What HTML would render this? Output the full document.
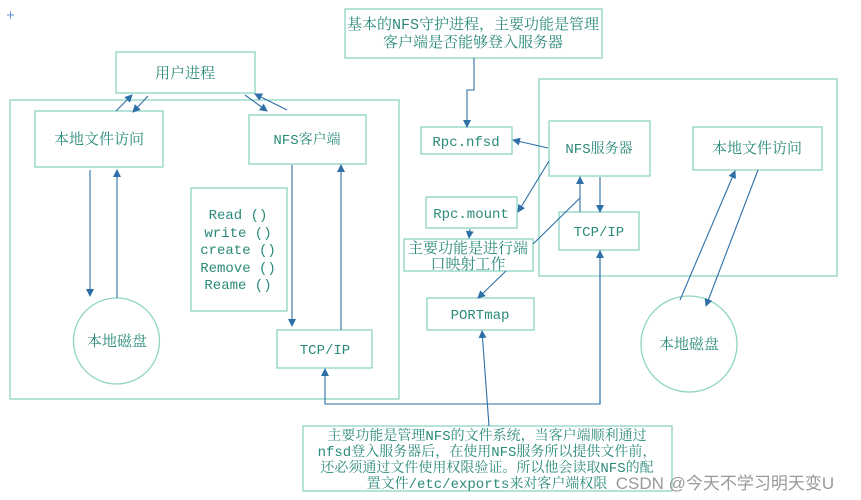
<!DOCTYPE html>
<html><head><meta charset="utf-8"><style>
html,body{margin:0;padding:0;background:#fff;width:861px;height:500px;overflow:hidden}
svg{display:block}
text{font-family:"Liberation Mono","Noto Serif CJK SC",monospace;fill:#2a8a7a;font-size:14px;text-anchor:middle}
.b{fill:#fff;stroke:#8fd4c4;stroke-width:1.3}
.c{fill:none;stroke:#8fd4c4;stroke-width:1.3}
.l{fill:none;stroke:#2d6fa6;stroke-width:1.1}
</style></head><body>
<svg width="861" height="500" viewBox="0 0 861 500" xmlns="http://www.w3.org/2000/svg">
<defs><marker id="a" markerWidth="8" markerHeight="8" refX="7" refY="4" orient="auto" markerUnits="userSpaceOnUse"><path d="M0,0 L8,4 L0,8 Z" fill="#2d6fa6"/></marker></defs>
<path d="M7 15h7M10.5 11.5v7" stroke="#5a8ee0" stroke-width="1"/>
<rect class="c" x="10" y="100" width="389" height="299"/>
<rect class="c" x="539" y="79" width="298" height="197"/>
<rect class="b" x="345" y="9" width="257" height="49"/>
<text x="473" y="29" style="font-size:15px">基本的NFS守护进程，主要功能是管理</text>
<text x="473" y="47" style="font-size:15px">客户端是否能够登入服务器</text>
<rect class="b" x="116" y="52" width="139" height="41"/><text x="185" y="78" style="font-size:15px">用户进程</text>
<rect class="b" x="35" y="111" width="128" height="56"/><text x="99" y="144" style="font-size:15px">本地文件访问</text>
<rect class="b" x="249" y="115" width="117" height="49"/><text x="307" y="144">NFS客户端</text>
<rect class="b" x="191" y="188" width="96" height="123"/>
<text x="238" y="219">Read ()</text><text x="238" y="237">write ()</text><text x="238" y="254">create ()</text><text x="238" y="272">Remove ()</text><text x="238" y="289">Reame ()</text>
<circle class="b" cx="116.5" cy="341" r="43"/><text x="117" y="346" style="font-size:15px">本地磁盘</text>
<rect class="b" x="277" y="330" width="95" height="38"/><text x="325" y="354">TCP/IP</text>
<rect class="b" x="421" y="127" width="91" height="27"/><text x="466" y="146">Rpc.nfsd</text>
<rect class="b" x="549" y="121" width="101" height="55"/><text x="599" y="153">NFS服务器</text>
<rect class="b" x="693" y="127" width="129" height="43"/><text x="757" y="153" style="font-size:15px">本地文件访问</text>
<rect class="b" x="426" y="197" width="91" height="31"/><text x="471" y="218">Rpc.mount</text>
<rect class="b" x="559" y="212" width="80" height="38"/><text x="599" y="236">TCP/IP</text>
<rect class="b" x="404" y="239" width="129" height="32"/>
<text x="468" y="253" style="font-size:15px">主要功能是进行端</text><text x="468" y="269" style="font-size:15px">口映射工作</text>
<rect class="b" x="427" y="298" width="107" height="32"/><text x="480" y="319">PORTmap</text>
<circle class="b" cx="689" cy="344" r="48"/><text x="689" y="349" style="font-size:15px">本地磁盘</text>
<rect class="b" x="303" y="426" width="369" height="65"/>
<text x="487" y="440">主要功能是管理NFS的文件系统，当客户端顺利通过</text>
<text x="487" y="456">nfsd登入服务器后，在使用NFS服务所以提供文件前，</text>
<text x="487" y="472">还必须通过文件使用权限验证。所以他会读取NFS的配</text>
<text x="487" y="488">置文件/etc/exports来对客户端权限</text>
<text x="725" y="489" style="fill:#999;font-family:'Liberation Sans','Noto Sans CJK SC',sans-serif;font-size:17px">CSDN @今天不学习明天变U</text>
<line class="l" x1="116" y1="111" x2="132" y2="95" marker-end="url(#a)"/>
<line class="l" x1="148" y1="96" x2="133" y2="112" marker-end="url(#a)"/>
<line class="l" x1="245" y1="95" x2="267" y2="111" marker-end="url(#a)"/>
<line class="l" x1="287" y1="110" x2="255" y2="94" marker-end="url(#a)"/>
<line class="l" x1="90" y1="170" x2="90" y2="296" marker-end="url(#a)"/>
<line class="l" x1="117" y1="298" x2="117" y2="170" marker-end="url(#a)"/>
<line class="l" x1="292" y1="165" x2="292" y2="326" marker-end="url(#a)"/>
<line class="l" x1="341" y1="330" x2="341" y2="165" marker-end="url(#a)"/>
<path class="l" d="M600 250 V404 H325 V369" marker-end="url(#a)"/>
<path class="l" d="M600 404 V251" marker-end="url(#a)"/>
<line class="l" x1="489" y1="426" x2="482" y2="331" marker-end="url(#a)"/>
<path class="l" d="M474 58 V90 H467 V127" marker-end="url(#a)"/>
<line class="l" x1="548" y1="148" x2="513" y2="140" marker-end="url(#a)"/>
<line class="l" x1="549" y1="161" x2="518" y2="212" marker-end="url(#a)"/>
<line class="l" x1="580" y1="212" x2="580" y2="177" marker-end="url(#a)"/>
<line class="l" x1="600" y1="177" x2="600" y2="212" marker-end="url(#a)"/>
<line class="l" x1="533" y1="244" x2="580" y2="198"/>
<line class="l" x1="470" y1="229" x2="469" y2="238" marker-end="url(#a)"/>
<line class="l" x1="506" y1="271" x2="478" y2="298" marker-end="url(#a)"/>
<line class="l" x1="680" y1="300" x2="735" y2="171" marker-end="url(#a)"/>
<line class="l" x1="758" y1="170" x2="706" y2="306" marker-end="url(#a)"/>
</svg>
</body></html>
